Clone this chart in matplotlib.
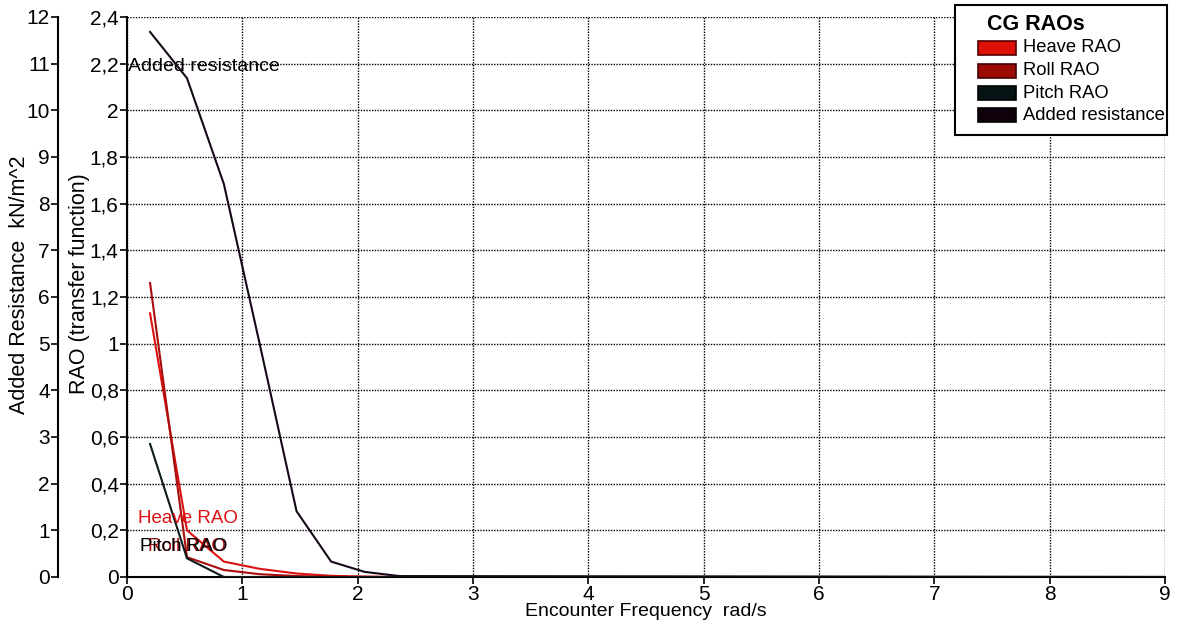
import matplotlib
matplotlib.use("Agg")
import matplotlib.pyplot as plt
from matplotlib.patches import Rectangle
from matplotlib.ticker import FuncFormatter, MultipleLocator

plt.rcParams['font.family'] = ['Liberation Sans', 'DejaVu Sans']

# Encounter frequency (rad/s)
freq = [0.20, 0.52, 0.84, 1.15, 1.47, 1.77, 2.06, 2.36, 9.0]

# RAOs at the centre of gravity (transfer function)
heave_rao = [1.13, 0.200, 0.066, 0.035, 0.015, 0.005, 0.002, 0.0, 0.0]
roll_rao = [1.26, 0.085, 0.030, 0.012, 0.004, 0.001, 0.0, 0.0, 0.0]
pitch_rao = [0.57, 0.080, 0.0, 0.0, 0.0, 0.0, 0.0, 0.0, 0.0]

# Added resistance (kN/m^2)
added_res = [11.68, 10.69, 8.42, 5.00, 1.41, 0.33, 0.11, 0.02, 0.0]

series_names = ["Heave RAO", "Roll RAO", "Pitch RAO", "Added resistance"]
series_colors = ["#dd1111", "#a80c0c", "#0c1a1a", "#160818"]
legend_colors = ["#dd1108", "#9c0c04", "#041414", "#10000c"]
legend_edges = ["#500000", "#400000", "#000000", "#000000"]

W, H = 1186, 628
fig = plt.figure(figsize=(W / 100, H / 100), dpi=100)
ax = fig.add_axes([127 / W, 1 - 577 / H, (1165 - 127) / W, (577 - 17) / H])

ax.plot(freq, heave_rao, color=series_colors[0], lw=1.5, zorder=4)
ax.plot(freq, roll_rao, color=series_colors[1], lw=1.5, zorder=4)
ax.plot(freq, pitch_rao, color=series_colors[2], lw=1.5, zorder=4)

ax.set_xlim(0, 9)
ax.set_ylim(0, 2.4)
ax.xaxis.set_major_locator(MultipleLocator(1))
ax.yaxis.set_major_locator(MultipleLocator(0.2))


def comma_fmt(v, pos):
    return ("%g" % round(v, 1)).replace(".", ",")


ax.yaxis.set_major_formatter(FuncFormatter(comma_fmt))
ax.grid(True, color="black", linestyle=(0, (1, 1)), linewidth=1.0)
ax.set_axisbelow(True)
for side in ("top", "right"):
    ax.spines[side].set_visible(False)
for side in ("left", "bottom"):
    ax.spines[side].set_linewidth(1.5)
ax.tick_params(axis="both", direction="out", length=5, width=1.2,
               labelsize=15, pad=1)

ax.set_xlabel("Encounter Frequency  rad/s", fontsize=14)
ax.xaxis.set_label_coords(0.5, -(603 - 577) / 560)
ax.xaxis.label.set_verticalalignment("top")

# Secondary scale for added resistance on an outward left spine
ax2 = ax.twinx()
ax2.plot(freq, added_res, color=series_colors[3], lw=1.5, zorder=4)
ax2.set_ylim(0, 12)
ax2.yaxis.set_major_locator(MultipleLocator(1))
ax2.yaxis.set_ticks_position("left")
ax2.spines["left"].set_visible(True)
ax2.spines["left"].set_position(("outward", (127 - 58) * 0.72))
ax2.spines["left"].set_linewidth(1.5)
for side in ("top", "right", "bottom"):
    ax2.spines[side].set_visible(False)
ax2.tick_params(axis="y", direction="out", length=5, width=1.2,
                labelsize=15, pad=1)

fig.text(20 / W, 1 - 285 / H, "Added Resistance  kN/m^2", rotation=90,
         ha="center", va="center", fontsize=15.5)
fig.text(80 / W, 1 - 284 / H, "RAO (transfer function)", rotation=90,
         ha="center", va="center", fontsize=15.5)

# Series labels inside the plot
ax.text(0.01, 2.186, "Added resistance", fontsize=14, va="center",
        color="black", zorder=5)
ax.text(0.095, 0.249, "Heave RAO", fontsize=13.5, va="center",
        color=series_colors[0], zorder=5)
ax.text(0.18, 0.129, "Roll RAO", fontsize=13.5, va="center",
        color=series_colors[1], zorder=5)
ax.text(0.113, 0.129, "Pitch RAO", fontsize=13.5, va="center",
        color="black", zorder=6)


# Legend box drawn in figure pixel coordinates (origin top-left)
def fx(px):
    return px / W


def fy(py):
    return 1 - py / H


fig.patches.append(Rectangle((fx(955), fy(135)), fx(1167) - fx(955),
                             fy(5) - fy(135), transform=fig.transFigure,
                             facecolor="white", edgecolor="black",
                             linewidth=1.5, zorder=10))
fig.text(fx(987), fy(24), "CG RAOs", fontsize=15.5, fontweight="bold",
         ha="left", va="center", zorder=11)
row_y = [48, 70.5, 93, 115]
for name, fc, ec, ry in zip(series_names, legend_colors, legend_edges, row_y):
    fig.patches.append(Rectangle((fx(978), fy(ry + 7)), fx(1016) - fx(978),
                                 fy(ry - 7) - fy(ry + 7),
                                 transform=fig.transFigure, facecolor=fc,
                                 edgecolor=ec, linewidth=1.2, zorder=11))
    fig.text(fx(1023), fy(ry), name, fontsize=13.2, ha="left",
             va="center", zorder=11)

fig.savefig("out.png", dpi=100)
